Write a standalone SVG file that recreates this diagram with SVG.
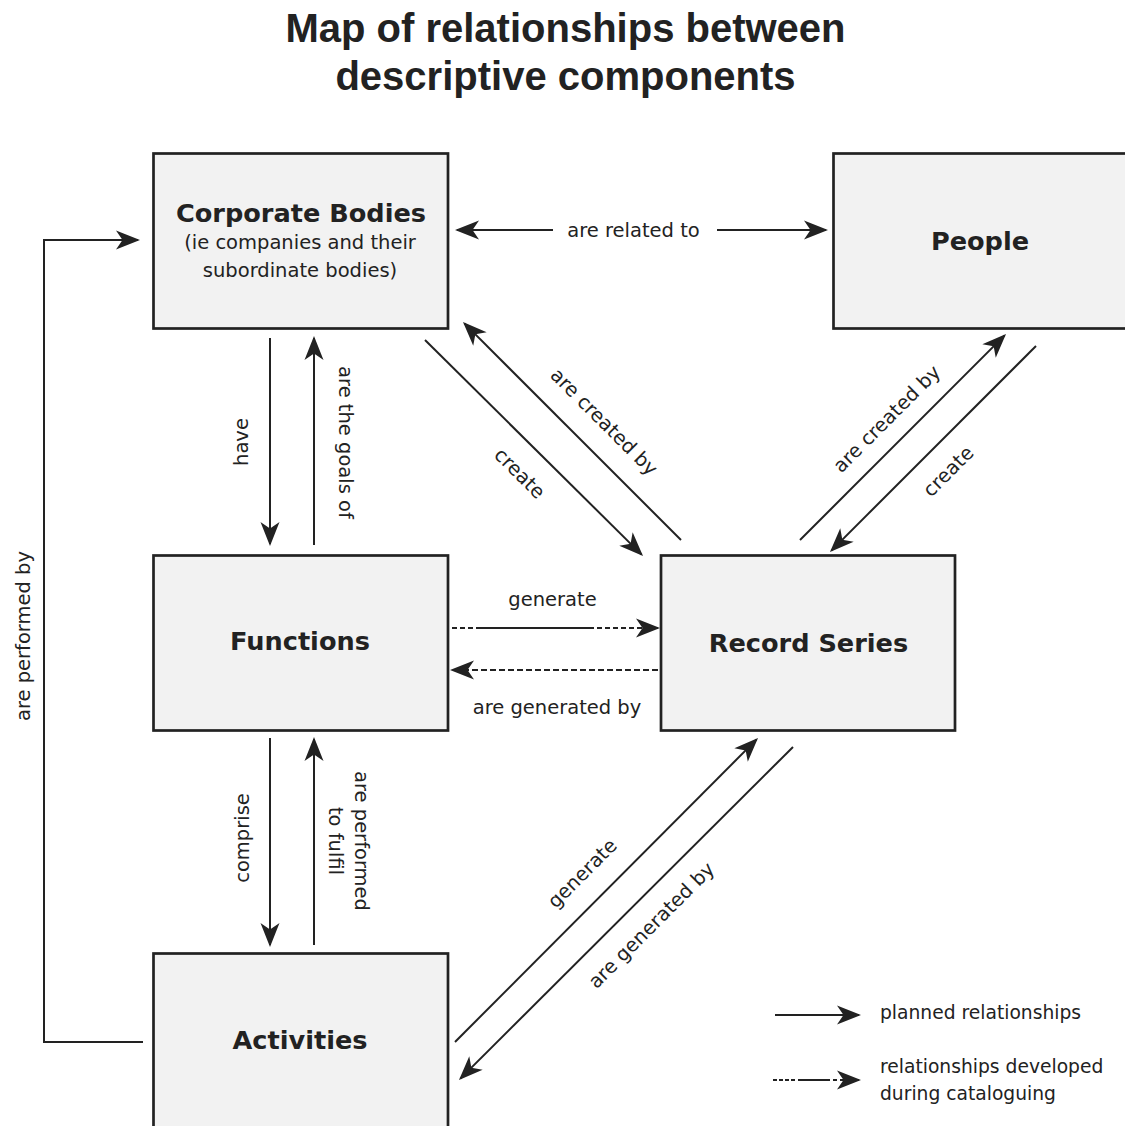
<svg xmlns="http://www.w3.org/2000/svg" width="1125" height="1126" viewBox="0 0 1125 1126">
<defs>
<marker id="ah" markerUnits="userSpaceOnUse" viewBox="-26 -11 28 22" refX="-2" refY="0" markerWidth="28" markerHeight="22" orient="auto">
<path d="M0,0 L-24,-9.5 L-17.5,0 L-24,9.5 Z" fill="#222"/>
</marker>
<style>
.box{fill:#f2f2f2;stroke:#222;stroke-width:2.7}
.ln{fill:none;stroke:#222;stroke-width:2;marker-end:url(#ah)}
.dash{stroke-dasharray:6 3}
.ttl{font-family:"Liberation Sans",Arial,sans-serif;font-weight:bold;font-size:40px;fill:#222;text-anchor:middle}
.bt{font-family:"DejaVu Sans",sans-serif;font-weight:bold;font-size:25.6px;fill:#222;text-anchor:middle}
.lbl{font-family:"DejaVu Sans",sans-serif;font-size:19.5px;fill:#222}
.leg{font-size:18.7px}
.m{text-anchor:middle}
</style>
</defs>
<rect width="1125" height="1126" fill="#ffffff"/>
<g id="title">
<text class="ttl" x="565.5" y="42">Map of relationships between</text>
<text class="ttl" x="565.5" y="90">descriptive components</text>
</g>
<g id="corporate-bodies">
<rect class="box" x="153.5" y="153.5" width="294.5" height="175"/>
<text class="bt" x="301" y="222">Corporate Bodies</text>
<text class="lbl m" x="300" y="249">(ie companies and their</text>
<text class="lbl m" x="300" y="276.5">subordinate bodies)</text>
</g>
<g id="people">
<rect class="box" x="833.5" y="153.5" width="300" height="175"/>
<text class="bt" x="980" y="249.5">People</text>
</g>
<g id="functions">
<rect class="box" x="153.5" y="555.5" width="294.5" height="175"/>
<text class="bt" x="300" y="650">Functions</text>
</g>
<g id="record-series">
<rect class="box" x="661" y="555.5" width="294" height="175"/>
<text class="bt" x="808.5" y="651.5">Record Series</text>
</g>
<g id="activities">
<rect class="box" x="153.5" y="953.5" width="294.5" height="185"/>
<text class="bt" x="300" y="1049">Activities</text>
</g>
<g id="connectors">
<path class="ln" d="M553,230 L457,230"/>
<path class="ln" d="M717,230 L826,230"/>
<path class="ln" d="M270,338 L270,544"/>
<path class="ln" d="M314,545 L314,338"/>
<path class="ln" d="M270,738 L270,945"/>
<path class="ln" d="M314,945 L314,739"/>
<path class="ln" d="M425,340 L641.6,554.6"/>
<path class="ln" d="M681,540 L464.4,323.4"/>
<path class="ln" d="M800,540 L1004.6,335.4"/>
<path class="ln" d="M1036,346 L831.4,550.6"/>
<path class="ln" d="M455,1042 L756.6,739.4"/>
<path class="ln" d="M793,747 L460.4,1078.6"/>
<path class="ln" d="M143,1042 H44 V240 H138"/>
<path class="ln" d="M452,628 L658,628" stroke-dasharray="5 3 5 3 5 3 118 3 5 3 5 3 5 3 5 3 5 3 5 3 5 3 5 3 5 3 20"/>
<path class="ln dash" d="M658,670 L452,670"/>
</g>
<g id="connector-labels">
<text class="lbl m" x="633.5" y="236.5">are related to</text>
<text class="lbl m" transform="rotate(-90 248 442)" x="248" y="442">have</text>
<text class="lbl m" transform="rotate(90 338.5 442.5)" x="338.5" y="442.5">are the goals of</text>
<text class="lbl m" transform="rotate(-90 248.5 838)" x="248.5" y="838">comprise</text>
<text class="lbl m" transform="rotate(90 355 841)" x="355" y="841">are performed</text>
<text class="lbl m" transform="rotate(90 328.5 841)" x="328.5" y="841">to fulfil</text>
<text class="lbl m" transform="rotate(-90 29.5 636)" x="29.5" y="636">are performed by</text>
<text class="lbl m" transform="rotate(45 599.5 426.5)" x="599.5" y="426.5">are created by</text>
<text class="lbl m" transform="rotate(45 515 478)" x="515" y="478">create</text>
<text class="lbl m" transform="rotate(-45 891.5 423.5)" x="891.5" y="423.5">are created by</text>
<text class="lbl m" transform="rotate(-45 953 476)" x="953" y="476">create</text>
<text class="lbl m" transform="rotate(-45 587 878)" x="587" y="878">generate</text>
<text class="lbl m" transform="rotate(-45 656 930)" x="656" y="930">are generated by</text>
<text class="lbl m" x="552.5" y="606">generate</text>
<text class="lbl m" x="557" y="714">are generated by</text>
</g>
<g id="legend">
<path class="ln" d="M775,1015 L859,1015"/>
<path class="ln" d="M773,1080 L859,1080" stroke-dasharray="4 2 4 2 4 2 4 3 32 3 4 3 30"/>
<text class="lbl leg" x="880" y="1018.5">planned relationships</text>
<text class="lbl leg" x="880" y="1073">relationships developed</text>
<text class="lbl leg" x="880" y="1100">during cataloguing</text>
</g>
</svg>
